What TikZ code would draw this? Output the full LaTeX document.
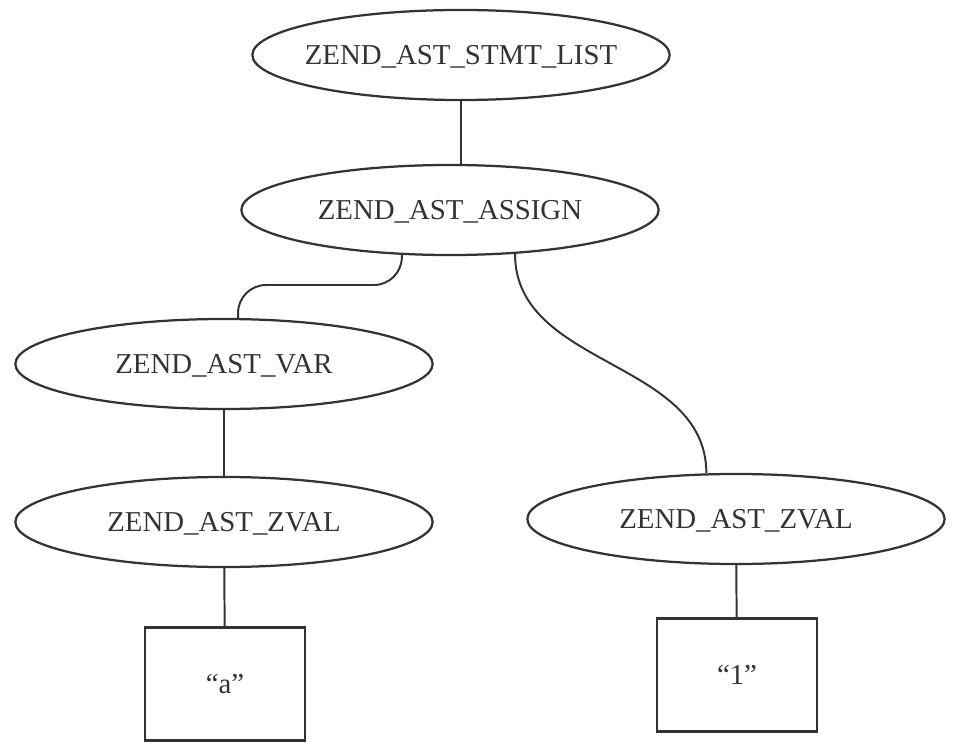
\documentclass[tikz,border=0pt]{standalone}
\usepackage{fontspec}
\setmainfont{Liberation Serif}
\usetikzlibrary{shapes.geometric}
\newcommand{\astname}[1]{\makebox[0pt]{#1}}
\tikzset{
  astnode/.style={draw, ellipse, line width=1.6pt, minimum width=10.43cm, minimum height=2.25cm, inner sep=0pt, text height=13.6pt, text depth=0pt},
  valbox/.style={draw, rectangle, line width=1.6pt, minimum width=4cm, minimum height=2.82cm},
  link/.style={draw, line width=1.4pt}
}
\begin{document}
\begin{tikzpicture}[x=0.025cm, y=0.025cm, color=black!80, font=\fontsize{20.5}{24}\selectfont]
\useasboundingbox (0,0) rectangle (954,752);
\node[astnode] (stmt) at (461,697) {\astname{ZEND\_AST\_STMT\_LIST}};
\node[astnode] (assign) at (450,542) {\astname{ZEND\_AST\_ASSIGN}};
\node[astnode] (var) at (224,388) {\astname{ZEND\_AST\_VAR}};
\node[astnode] (zvala) at (224,230) {\astname{ZEND\_AST\_ZVAL}};
\node[astnode] (zvalb) at (736,233) {\astname{ZEND\_AST\_ZVAL}};
\node[valbox] (vala) at (225,68) {“a”};
\node[valbox] (valb) at (737,77) {“1”};
\coordinate (benda) at (320,467);

\path[link] (stmt.south) -- (assign.north -| stmt.south);
\path[link, rounded corners=0.7cm] (assign.223) |- (benda) -| (var.73);
\path[link] (assign.326) to[out=-90, in=90] (zvalb.123);
\path[link] (var) -- (zvala);
\path[link] (zvala) -- (vala);
\path[link] (zvalb) -- (valb);
\end{tikzpicture}
\end{document}
